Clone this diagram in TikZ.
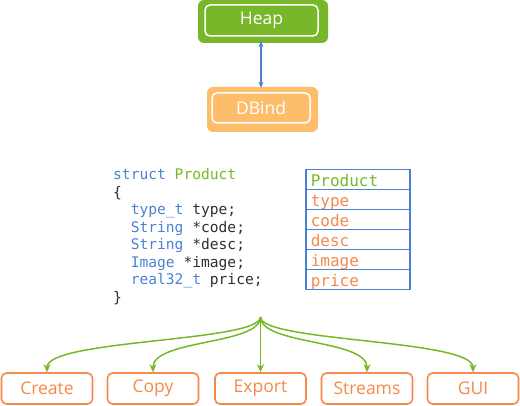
\documentclass[tikz,border=0pt]{standalone}
\usepackage{fontspec}
\setmainfont{Open Sans}
\setmonofont{DejaVu Sans Mono}
\usetikzlibrary{arrows.meta}
\definecolor{heapgreen}{HTML}{78B72A}
\definecolor{dbindorange}{HTML}{FDBD6A}
\definecolor{actorange}{HTML}{F5884A}
\definecolor{linkblue}{HTML}{4A82D2}
\definecolor{codedark}{HTML}{2E2E2E}
\newcommand{\ckw}[1]{\textcolor{linkblue}{#1}}
\newcommand{\cty}[1]{\textcolor{heapgreen}{#1}}

\begin{document}
\begin{tikzpicture}[x=1pt,y=-1pt,
  outerbox/.style={rounded corners=6pt, inner sep=0pt},
  innerbox/.style={draw=white, line width=1.5pt, rounded corners=5pt,
    text=white, font=\fontsize{17.5}{20}\selectfont, inner sep=0pt},
  codeline/.style={anchor=base west, inner sep=0pt, text=codedark,
    font=\ttfamily\fontsize{14.6}{17}\selectfont},
  fieldrow/.style={draw=linkblue, line width=1.5pt, anchor=north west,
    text width=94pt, align=left, inner xsep=5pt, inner ysep=3pt,
    text height=14pt, text depth=0pt, minimum height=20pt,
    font=\ttfamily\fontsize{16}{18}\selectfont},
  actbox/.style={draw=actorange, line width=1.6pt, rounded corners=5pt,
    text=actorange, minimum width=91pt, minimum height=31pt, inner sep=0pt,
    font=\fontsize{17.5}{20}\selectfont},
  flow/.style={draw=heapgreen, line width=1.5pt,
    -{Stealth[length=8pt,width=7pt]}}
]
\useasboundingbox (0,0) rectangle (520,406);

% heap and its binding
\node[outerbox, fill=heapgreen, minimum width=130pt, minimum height=43pt]
  (heapbg) at (263,21.5) {};
\node[innerbox, minimum width=113pt, minimum height=31pt]
  (heap) at (261.5,20.5) {Heap};
\node[outerbox, fill=dbindorange, minimum width=111pt, minimum height=45pt]
  (dbindbg) at (262.5,109.5) {};
\node[innerbox, minimum width=98pt, minimum height=30pt]
  (dbind) at (261,108) {DBind};
\draw[linkblue, line width=1.3pt, {Stealth[length=6pt,width=5pt]}-{Stealth[length=6pt,width=5pt]}]
  ([xshift=-2pt,yshift=2pt]heapbg.south) -- ([xshift=-1.5pt,yshift=-1pt]dbindbg.north);

% struct source
\foreach \codetext [count=\i] in {
  {\ckw{struct} \cty{Product}},
  {\{},
  {\phantom{xx}\ckw{type\_t} type;},
  {\phantom{xx}\ckw{String} *code;},
  {\phantom{xx}\ckw{String} *desc;},
  {\phantom{xx}\ckw{Image} *image;},
  {\phantom{xx}\ckw{real32\_t} price;},
  {\}}}
  \node[codeline] (code\i) at (113,162.5+17.5*\i) {\codetext};

% field table
\foreach \fname/\fcol [count=\i] in {Product/heapgreen, type/actorange,
  code/actorange, desc/actorange, image/actorange, price/actorange}
  \node[fieldrow, text=\fcol] (field\i) at (305,149+20*\i) {\fname};

% consumers
\foreach \aname/\ax in {Create/47, Copy/153, Export/260.5, Streams/367, GUI/473}
  \node[actbox] (\aname) at (\ax,388.5) {\aname};

\coordinate (hub) at (260.5,317);
\draw[flow] (hub) .. controls +(0,25) and +(0,-33) .. (Create.north);
\draw[flow] (hub) .. controls +(0,28) and +(0,-33) .. (Copy.north);
\draw[flow] (hub) -- (Export.north);
\draw[flow] (hub) .. controls +(0,28) and +(0,-33) .. (Streams.north);
\draw[flow] (hub) .. controls +(0,25) and +(0,-33) .. (GUI.north);

\end{tikzpicture}
\end{document}
